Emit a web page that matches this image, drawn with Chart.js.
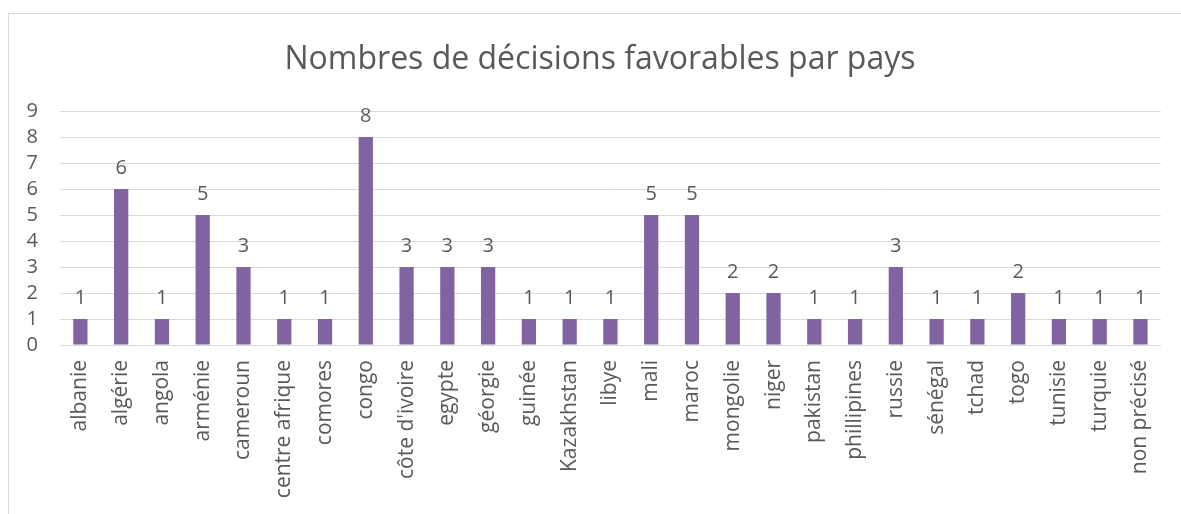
<!DOCTYPE html>
<html>
<head>
<meta charset="utf-8">
<script src="https://cdn.jsdelivr.net/npm/chart.js@4/dist/chart.umd.min.js"></script>
<style>
    html, body { margin: 0; padding: 0; background: #fff; }
    #frame {
        position: absolute; left: 8px; top: 13px;
        width: 1200px; height: 520px;
        border: 1px solid #d9d9d9;
    }
    #pays-chart { position: absolute; left: 0; top: 0; }
</style>
</head>
<body>
<div id="frame"></div>
<canvas id="pays-chart" width="1181" height="514"></canvas>
<script>
const pays = [
    'albanie', 'algérie', 'angola', 'arménie', 'cameroun', 'centre afrique', 'comores',
    'congo', "côte d'ivoire", 'egypte', 'géorgie', 'guinée', 'Kazakhstan', 'libye',
    'mali', 'maroc', 'mongolie', 'niger', 'pakistan', 'phillipines', 'russie',
    'sénégal', 'tchad', 'togo', 'tunisie', 'turquie', 'non précisé'
];
const decisions = [1, 6, 1, 5, 3, 1, 1, 8, 3, 3, 3, 1, 1, 1, 5, 5, 2, 2, 1, 1, 3, 1, 1, 2, 1, 1, 1];
const yTicks = [0, 1, 2, 3, 4, 5, 6, 7, 8, 9];
const titre = 'Nombres de décisions favorables par pays';

const textColor = '#595959';
const fontFamily = '"Open Sans", sans-serif';

// labels above each bar (no datalabels plugin available offline)
const barLabels = {
    id: 'barLabels',
    afterDatasetsDraw(chart) {
        const ctx = chart.ctx;
        const meta = chart.getDatasetMeta(0);
        ctx.save();
        ctx.font = '20px ' + fontFamily;
        ctx.fillStyle = textColor;
        ctx.textAlign = 'center';
        ctx.textBaseline = 'bottom';
        meta.data.forEach((bar, i) => {
            ctx.fillText(String(decisions[i]), bar.x, bar.y - 11);
        });
        ctx.restore();
    }
};

// the excel title is centred on the whole chart frame, which runs past the right edge
const frameTitle = {
    id: 'frameTitle',
    afterDraw(chart) {
        const ctx = chart.ctx;
        ctx.save();
        ctx.font = '32px ' + fontFamily;
        ctx.fillStyle = textColor;
        ctx.textAlign = 'center';
        ctx.textBaseline = 'middle';
        ctx.fillText(titre, 600, 60);
        ctx.restore();
    }
};

const ctx = document.getElementById('pays-chart').getContext('2d');
new Chart(ctx, {
    type: 'bar',
    data: {
        labels: pays,
        datasets: [{
            data: decisions,
            backgroundColor: '#8064A2',
            barPercentage: 0.35,
            categoryPercentage: 1
        }]
    },
    options: {
        responsive: false,
        animation: false,
        layout: { padding: { left: 0, right: 18, top: 111, bottom: 0 } },
        plugins: {
            legend: { display: false },
            tooltip: { enabled: false },
            title: { display: false }
        },
        scales: {
            x: {
                grid: { display: false, drawTicks: false },
                border: { color: '#d9d9d9', width: 1 },
                ticks: {
                    color: textColor,
                    font: { family: fontFamily, size: 21 },
                    maxRotation: 90,
                    minRotation: 90,
                    padding: 15,
                    autoSkip: false
                },
                afterFit(scale) { scale.height = 169; }
            },
            y: {
                min: 0,
                max: 9,
                afterBuildTicks(scale) {
                    scale.ticks = yTicks.map(v => ({ value: v }));
                },
                grid: { color: '#d9d9d9', drawTicks: false },
                border: { display: false },
                ticks: {
                    color: textColor,
                    font: { family: fontFamily, size: 20, lineHeight: 1 },
                    padding: 22,
                    autoSkip: false
                },
                afterFit(scale) { scale.width = 60; }
            }
        }
    },
    plugins: [barLabels, frameTitle]
});
</script>
</body>
</html>
